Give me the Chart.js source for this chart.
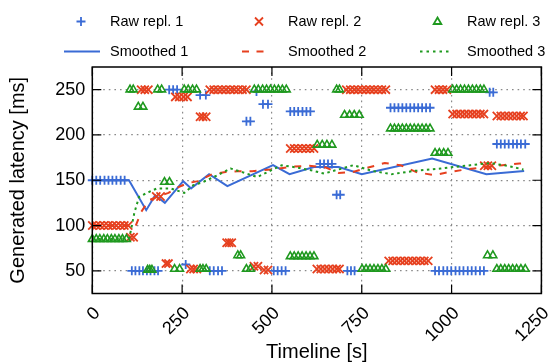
<!DOCTYPE html>
<html><head><meta charset="utf-8">
<script src="https://cdn.jsdelivr.net/npm/chart.js@4.4.0/dist/chart.umd.min.js"></script>
<style>html,body{margin:0;padding:0;background:#fff;}#wrap{width:549px;height:362px;position:relative;}</style>
</head><body><div id="wrap"><canvas id="c" width="549" height="362"></canvas></div>
<script>
// ---- data (time [s], latency [ms]) ----
const xTicks = [0, 250, 500, 750, 1000, 1250];
const xTickLabels = ['0', '250', '500', '750', '1000', '1250'];
const yTicks = [50, 100, 150, 200, 250];

const raw1 = [[0,150],[11,150],[22,150],[34,150],[45,150],[56,150],[67,150],[79,150],[90,150],
 [110,50],[120,50],[131,50],[141,50],[152,50],[162,50],[173,50],[183,50],
 [214,250],[225,250],[236,250],[260,57],[300,244],[316,244],
 [327,50],[338,50],[350,50],[361,50],[429,215],[440,215],[457,248],[475,234],[489,234],
 [505,50],[516,50],[527,50],[538,50],
 [551,226],[562,226],[573,226],[585,226],[596,226],[607,226],
 [634,168],[645,168],[656,168],[667,168],[680,134],[690,134],[710,50],[720,50],[730,50],
 [830,230],[841,230],[852,230],[863,230],[874,230],[885,230],[896,230],[907,230],[918,230],[929,230],[940,230],
 [954,50],[965,50],[977,50],[988,50],[999,50],[1011,50],[1022,50],[1033,50],[1045,50],[1056,50],[1067,50],[1079,50],[1090,50],
 [1106,247],[1116,247],
 [1126,190],[1137,190],[1148,190],[1159,190],[1171,190],[1182,190],[1193,190],[1205,190]];

const raw2 = [[0,100],[11,100],[22,100],[33,100],[44,100],[56,100],[67,100],[78,100],[89,100],[100,100],
 [106,87],[115,87],[136,250],[146,250],[156,250],[178,132],[190,132],[205,58],[212,58],
 [231,242],[242,242],[254,242],[265,242],[273,52],[282,52],[291,52],[300,220],[308,220],[317,220],
 [327,250],[338,250],[350,250],[361,250],[372,250],[384,250],[395,250],[406,250],[418,250],[429,250],
 [374,81],[381,81],[388,81],[450,55],[461,55],[478,51],[489,51],
 [551,185],[562,185],[573,185],[584,185],[595,185],[606,185],[617,185],
 [625,52],[636,52],[647,52],[658,52],[669,52],[680,52],[688,52],
 [707,250],[718,250],[729,250],[740,250],[751,250],[762,250],[773,250],[784,250],[795,250],[806,250],[817,250],
 [825,61],[836,61],[847,61],[858,61],[869,61],[880,61],[891,61],[902,61],[913,61],[924,61],[935,61],
 [954,250],[965,250],[976,250],[987,250],
 [1003,223],[1014,223],[1025,223],[1036,223],[1047,223],[1058,223],[1069,223],[1080,223],[1090,223],
 [1091,166],[1101,166],[1112,166],
 [1126,221],[1137,221],[1148,221],[1159,221],[1170,221],[1181,221],[1192,221],[1200,221]];

const raw3 = [[0,85],[11,85],[21,85],[32,85],[42,85],[53,85],[63,85],[74,85],[84,85],[95,85],
 [105,250],[114,250],[128,231],[141,231],[154,51],[160,51],[166,51],[182,250],[193,250],
 [201,148],[215,148],[229,52],[243,52],[256,250],[267,250],[279,250],[290,250],
 [300,52],[308,52],[317,52],[405,67],[413,67],[429,52],[440,52],
 [451,250],[462,250],[474,250],[485,250],[496,250],[507,250],[518,250],[529,250],[540,250],
 [551,66],[562,66],[573,66],[584,66],[595,66],[606,66],[617,66],
 [626,189],[640,189],[653,189],[667,189],[680,250],[688,250],
 [702,222],[716,222],[729,222],[743,222],
 [751,52],[762,52],[773,52],[784,52],[795,52],[806,52],[817,52],
 [830,207],[841,207],[852,207],[863,207],[874,207],[885,207],[896,207],[907,207],[918,207],[929,207],[940,207],
 [954,180],[966,180],[978,180],[990,180],
 [1003,250],[1014,250],[1025,250],[1036,250],[1047,250],[1058,250],[1069,250],[1080,250],[1090,250],
 [1100,67],[1115,67],
 [1126,52],[1137,52],[1148,52],[1159,52],[1170,52],[1181,52],[1193,52],[1205,52]];

const smooth1 = [[0,150],[102,150],[150,117],[175,133.5],[202,125],[253,149],[275,141],[325,156.7],[376,143.5],
 [503,166.6],[549,156.7],[617,164.7],[686,164.7],[750,156.7],[946,174],[1097,156.7],[1202,160.3]];
const smooth2 = [[0,100],[103,100],[119,98],[136,115],[158,128],[185,132.5],[212,136],[240,142.5],[267,147],[294,149],
 [335,157],[371,159],[404,160],[445,160],[500,162],[560,165],[604,166],[650,164],[686,158],[724,159],[768,164],
 [814,169],[858,166.6],[902,159],[951,155.6],[992,159],[1041,162],[1096,164.7],[1142,166.6],[1189,168.4],[1202,169]];
const smooth3 = [[0,85],[103,86],[117,114],[130,131.5],[152,136],[180,141],[218,141],[256,136],[281,144.5],[308,148],
 [349,155.6],[385,163],[417,159],[459,153.5],[527,166.6],[569,164],[609,161],[645,157.4],[727,166.6],[779,160.3],
 [833,156.7],[896,160.3],[970,163],[1052,166.6],[1107,169],[1161,165.5],[1200,161.8]];

const seriesNames = ['Raw repl. 1', 'Smoothed 1', 'Raw repl. 2', 'Smoothed 2', 'Raw repl. 3', 'Smoothed 3'];

// ---- styles ----
const BLUE = '#3a6bd5', RED = '#e6401f', GREEN = '#1f991f';
const FONT = '"Liberation Sans", Arial, Helvetica, sans-serif';
const toXY = a => a.map(p => ({x: p[0], y: p[1]}));

function rawSet(label, data, color, style, r, bw, order) {
  return {type: 'scatter', label, data: toXY(data), showLine: false, pointStyle: style, pointRadius: r,
    pointHoverRadius: r, borderColor: color, backgroundColor: 'rgba(0,0,0,0)', pointBorderWidth: bw,
    order, clip: {left: 8, top: 8, right: 0, bottom: 8}};
}
function lineSet(label, data, color, dash, order) {
  return {type: 'line', label, data: toXY(data), borderColor: color, borderWidth: 2, borderDash: dash,
    pointRadius: 0, fill: false, tension: 0, order, clip: 4};
}

const legendPlugin = {
  id: 'customLegend',
  afterDraw(chart) {
    const ctx = chart.ctx;
    ctx.save();
    ctx.font = '14.5px ' + FONT;
    ctx.fillStyle = '#000';
    ctx.textBaseline = 'middle';
    const r1 = 21.5, r2 = 51.5;
    const cols = [{sx: 81, tx: 110, l0: 64, l1: 100, c: BLUE, dash: []},
                  {sx: 259, tx: 288, l0: 242, l1: 269, c: RED, dash: [7, 7.5]},
                  {sx: 437.5, tx: 467, l0: 420, l1: 451, c: GREEN, dash: [2.5, 4]}];
    cols.forEach((col, i) => {
      ctx.fillText(seriesNames[i * 2], col.tx, r1);
      ctx.fillText(seriesNames[i * 2 + 1], col.tx, r2);
      ctx.strokeStyle = col.c;
      ctx.lineWidth = 1.8;
      ctx.beginPath();
      if (i === 0) { ctx.moveTo(col.sx - 4.5, r1); ctx.lineTo(col.sx + 4.5, r1); ctx.moveTo(col.sx, r1 - 4.5); ctx.lineTo(col.sx, r1 + 4.5); }
      if (i === 1) { ctx.moveTo(col.sx - 4, r1 - 4); ctx.lineTo(col.sx + 4, r1 + 4); ctx.moveTo(col.sx + 4, r1 - 4); ctx.lineTo(col.sx - 4, r1 + 4); }
      if (i === 2) { ctx.moveTo(col.sx, r1 - 4); ctx.lineTo(col.sx + 3.8, r1 + 2.5); ctx.lineTo(col.sx - 3.8, r1 + 2.5); ctx.closePath(); }
      ctx.stroke();
      ctx.lineWidth = 2;
      ctx.setLineDash(col.dash);
      ctx.beginPath(); ctx.moveTo(col.l0, r2); ctx.lineTo(col.l1, r2); ctx.stroke();
      ctx.setLineDash([]);
    });
    ctx.restore();
  }
};

const framePlugin = {
  id: 'frame',
  afterDatasetsDraw(chart) {
    const {ctx, chartArea: a, scales: {x, y}} = chart;
    ctx.save();
    ctx.strokeStyle = '#000';
    ctx.lineWidth = 1.2;
    ctx.beginPath();
    xTicks.forEach(v => { const p = x.getPixelForValue(v);
      ctx.moveTo(p, a.bottom); ctx.lineTo(p, a.bottom - 9); ctx.moveTo(p, a.top); ctx.lineTo(p, a.top + 9); });
    yTicks.forEach(v => { const p = y.getPixelForValue(v);
      ctx.moveTo(a.left, p); ctx.lineTo(a.left + 9, p); ctx.moveTo(a.right, p); ctx.lineTo(a.right - 9, p); });
    ctx.stroke();
    ctx.lineWidth = 1.5;
    ctx.strokeRect(a.left, a.top, a.right - a.left, a.bottom - a.top);
    // rotated x tick labels (gnuplot style: right end near the tick)
    ctx.fillStyle = '#000';
    ctx.font = '18px ' + FONT;
    ctx.textAlign = 'right';
    ctx.textBaseline = 'middle';
    xTicks.forEach((v, i) => {
      const p = x.getPixelForValue(v);
      ctx.save();
      ctx.translate(p + 5, a.bottom + 17);
      ctx.rotate(-Math.PI / 4);
      ctx.fillText(xTickLabels[i], 0, 0);
      ctx.restore();
    });
    ctx.restore();
  }
};

new Chart(document.getElementById('c'), {
  data: {datasets: [
    rawSet(seriesNames[0], raw1, BLUE, 'cross', 4.5, 1.8, 6),
    lineSet(seriesNames[1], smooth1, BLUE, [], 5),
    rawSet(seriesNames[2], raw2, RED, 'crossRot', 5.8, 1.8, 4),
    lineSet(seriesNames[3], smooth2, RED, [7, 8], 3),
    rawSet(seriesNames[4], raw3, GREEN, 'triangle', 4.5, 1.6, 2),
    lineSet(seriesNames[5], smooth3, GREEN, [2.5, 3.5], 1)
  ]},
  options: {
    responsive: false, animation: false, devicePixelRatio: 1,
    layout: {padding: {left: 0, right: 0, top: 67, bottom: 0}},
    plugins: {legend: {display: false}, tooltip: {enabled: false}},
    scales: {
      x: {type: 'linear', min: 0, max: 1250,
        afterBuildTicks: s => { s.ticks = xTicks.map(v => ({value: v})); },
        afterFit: s => { s.height = 362 - 293.5; s.paddingLeft = 0; s.paddingRight = 0; },
        ticks: {display: false},
        grid: {color: '#8a8a8a', lineWidth: 1.2, drawTicks: false},
        border: {display: false, dash: [1.6, 4]},
        title: {display: true, text: 'Timeline [s]', color: '#000', font: {family: FONT, size: 20, lineHeight: 1.0}, padding: {top: 0, bottom: 0}}
      },
      y: {type: 'linear', min: 25, max: 275,
        afterBuildTicks: s => { s.ticks = yTicks.map(v => ({value: v})); },
        afterFit: s => { s.width = 92.3; s.paddingTop = 0; s.paddingBottom = 0; },
        ticks: {padding: 7, color: '#000', font: {family: FONT, size: 18}},
        grid: {color: '#8a8a8a', lineWidth: 1.2, drawTicks: false},
        border: {display: false, dash: [1.6, 4]},
        title: {display: true, text: 'Generated latency [ms]', color: '#000', font: {family: FONT, size: 20, lineHeight: 1.0}, padding: {top: 8, bottom: 0}}
      }
    }
  },
  plugins: [framePlugin, legendPlugin]
});
</script></body></html>
